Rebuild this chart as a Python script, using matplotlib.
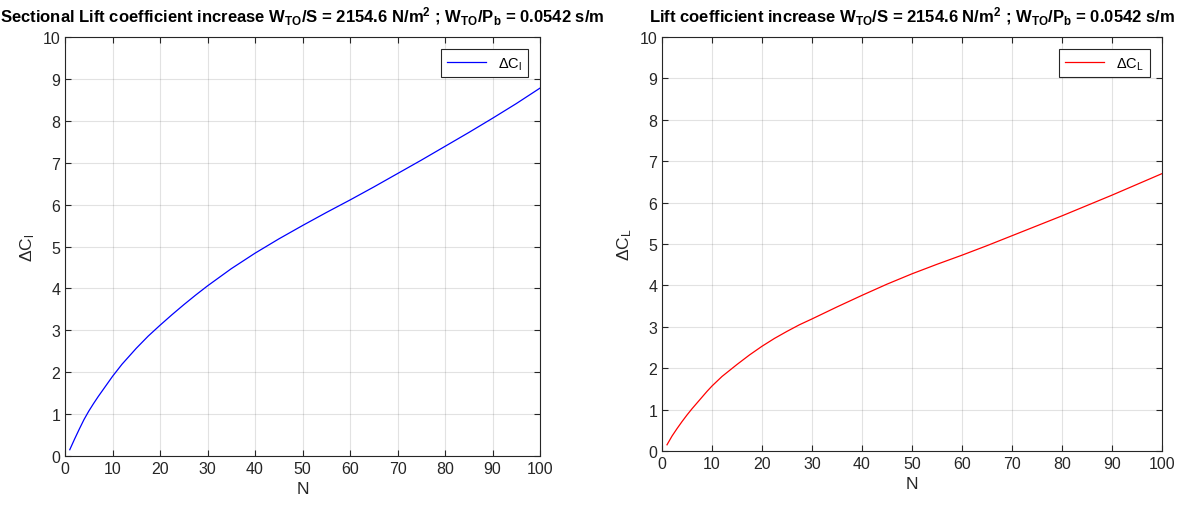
import numpy as np
import matplotlib
matplotlib.use("Agg")
from matplotlib import pyplot as plt

plt.rcParams["font.family"] = ["Liberation Sans", "DejaVu Sans"]
plt.rcParams["mathtext.fontset"] = "custom"
plt.rcParams["mathtext.rm"] = "Liberation Sans"
plt.rcParams["mathtext.it"] = "Liberation Sans"
plt.rcParams["mathtext.bf"] = "Liberation Sans:bold"

# values
N = [1, 2, 3, 4, 5, 6, 7, 8, 9, 10, 12, 15, 17.5, 20, 22.5, 25, 27.5, 30,
     35, 40, 45, 50, 55, 60, 65, 70, 75, 80, 85, 90, 95, 100]
dCl = [0.15, 0.40, 0.64, 0.87, 1.07, 1.25, 1.42, 1.58, 1.74, 1.90, 2.19, 2.57, 2.86, 3.12,
       3.37, 3.61, 3.84, 4.06, 4.47, 4.84, 5.18, 5.50, 5.81, 6.11, 6.42, 6.74, 7.06, 7.39,
       7.72, 8.06, 8.41, 8.78]
dCL = [0.15, 0.36, 0.54, 0.71, 0.87, 1.02, 1.16, 1.30, 1.44, 1.57, 1.80, 2.09, 2.32, 2.53,
       2.72, 2.89, 3.05, 3.19, 3.48, 3.76, 4.03, 4.28, 4.51, 4.73, 4.96, 5.20, 5.44, 5.68,
       5.93, 6.18, 6.44, 6.70]

titles = [
    r"Sectional Lift coefficient increase W$_{\mathbf{TO}}$/S = 2154.6 N/m$^{\mathbf{2}}$ ; "
    r"W$_{\mathbf{TO}}$/P$_{\mathbf{b}}$ = 0.0542 s/m",
    r"Lift coefficient increase W$_{\mathbf{TO}}$/S = 2154.6 N/m$^{\mathbf{2}}$ ; "
    r"W$_{\mathbf{TO}}$/P$_{\mathbf{b}}$ = 0.0542 s/m",
]
ylabels = [r"$\Delta$C$_{\rm l}$", r"$\Delta$C$_{\rm L}$"]
colors = ["#0000ff", "#ff0000"]
series = [dCl, dCL]

DARK = "#262626"

fig = plt.figure(figsize=(11.92, 5.10), dpi=100)
rects = [
    [65 / 1192, 53 / 510, 475 / 1192, 419 / 510],
    [662 / 1192, 58 / 510, 500 / 1192, 414 / 510],
]

for rect, title, ylab, col, vals in zip(rects, titles, ylabels, colors, series):
    ax = fig.add_axes(rect)
    ax.plot(N, vals, color=col, lw=0.9, label=ylab)
    ax.set_xlim(0, 100)
    ax.set_ylim(0, 10)
    ax.set_xticks(np.arange(0, 101, 10))
    ax.set_yticks(np.arange(0, 11, 1))
    ax.grid(True, color=DARK, alpha=0.13, lw=0.8)
    ax.tick_params(direction="in", top=True, right=True, length=4,
                   color=DARK, labelcolor=DARK, labelsize=11.5)
    for sp in ax.spines.values():
        sp.set_color(DARK)
        sp.set_linewidth(0.8)
    ax.set_title(title, fontsize=12, fontweight="bold", color="black", pad=11)
    ax.set_xlabel("N", fontsize=12.5, color=DARK)
    ax.set_ylabel(ylab, fontsize=12.5, color=DARK)
    leg = ax.legend(loc="upper right", fontsize=10.5, fancybox=False, framealpha=1,
                    handlelength=2.7, borderaxespad=0.85)
    leg.get_frame().set_edgecolor(DARK)
    leg.get_frame().set_linewidth(0.8)

fig.savefig("out.png", dpi=100)
